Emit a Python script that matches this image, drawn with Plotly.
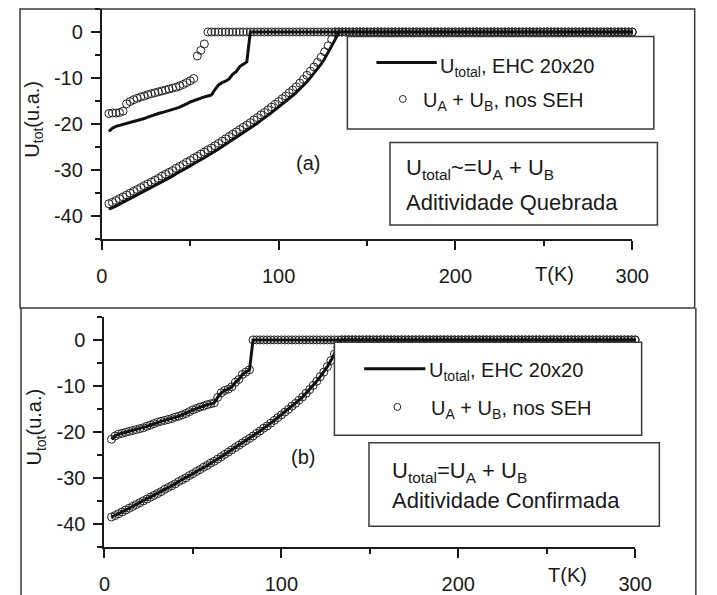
import plotly.graph_objects as go

W, H = 717, 595

# ---------------- data ----------------
T = [4, 6, 8, 10, 12, 14, 16, 18, 20, 22, 24, 26, 28, 30, 32, 34, 36, 38, 40, 42,
     44, 46, 48, 50, 52, 54, 56, 58, 60, 62, 64, 66, 68, 70, 72, 74, 76, 78, 80, 82,
     84, 86, 88, 90, 92, 94, 96, 98, 100, 102, 104, 106, 108, 110, 112, 114, 116, 118, 120, 122,
     124, 126, 128, 130, 132, 134, 136, 138, 140, 142, 144, 146, 148, 150, 152, 154, 156, 158, 160, 162,
     164, 166, 168, 170, 172, 174, 176, 178, 180, 182, 184, 186, 188, 190, 192, 194, 196, 198, 200, 202,
     204, 206, 208, 210, 212, 214, 216, 218, 220, 222, 224, 226, 228, 230, 232, 234, 236, 238, 240, 242,
     244, 246, 248, 250, 252, 254, 256, 258, 260, 262, 264, 266, 268, 270, 272, 274, 276, 278, 280, 282,
     284, 286, 288, 290, 292, 294, 296, 298, 300]

# U_total, EHC 20x20 - upper branch (40 values T=4..82, then 109 zeros T=84..300)
ehc_upper = [-21.6, -20.9, -20.5, -20.3, -20.1, -19.9, -19.7, -19.5, -19.3, -19.1,
             -18.8, -18.5, -18.2, -17.9, -17.7, -17.5, -17.3, -17.1, -16.8, -16.6,
             -16.3, -16.0, -15.6, -15.2, -14.9, -14.6, -14.4, -14.1, -13.9, -13.7,
             -12.5, -11.5, -11.0, -10.7, -10.2, -9.2, -8.6, -7.5, -7.0, -6.5,
             0, 0, 0, 0, 0, 0, 0, 0, 0, 0, 0, 0, 0, 0, 0, 0, 0, 0, 0, 0,
             0, 0, 0, 0, 0, 0, 0, 0, 0, 0, 0, 0, 0, 0, 0, 0, 0, 0, 0, 0,
             0, 0, 0, 0, 0, 0, 0, 0, 0, 0, 0, 0, 0, 0, 0, 0, 0, 0, 0, 0,
             0, 0, 0, 0, 0, 0, 0, 0, 0, 0, 0, 0, 0, 0, 0, 0, 0, 0, 0, 0,
             0, 0, 0, 0, 0, 0, 0, 0, 0, 0, 0, 0, 0, 0, 0, 0, 0, 0, 0, 0,
             0, 0, 0, 0, 0, 0, 0, 0, 0]

# U_total, EHC 20x20 - lower branch (65 values T=4..132, then 84 zeros T=134..300)
ehc_lower = [-38.5, -38.2, -37.8, -37.4, -37.0, -36.6, -36.2, -35.8, -35.4, -35.0,
             -34.6, -34.2, -33.8, -33.4, -33.0, -32.5, -32.1, -31.7, -31.3, -30.8,
             -30.4, -30.0, -29.5, -29.1, -28.6, -28.2, -27.7, -27.3, -26.8, -26.4,
             -25.9, -25.4, -24.9, -24.4, -23.9, -23.4, -22.9, -22.4, -21.9, -21.4,
             -20.9, -20.3, -19.8, -19.2, -18.7, -18.1, -17.5, -16.9, -16.3, -15.7,
             -15.1, -14.4, -13.8, -13.1, -12.4, -11.6, -10.8, -9.9, -9.0, -8.0,
             -7.0, -5.8, -4.5, -3.1, -1.6,
             0, 0, 0, 0, 0, 0, 0, 0, 0, 0, 0, 0, 0, 0, 0, 0, 0, 0, 0, 0,
             0, 0, 0, 0, 0, 0, 0, 0, 0, 0, 0, 0, 0, 0, 0, 0, 0, 0, 0, 0,
             0, 0, 0, 0, 0, 0, 0, 0, 0, 0, 0, 0, 0, 0, 0, 0, 0, 0, 0, 0,
             0, 0, 0, 0, 0, 0, 0, 0, 0, 0, 0, 0, 0, 0, 0, 0, 0, 0, 0, 0,
             0, 0, 0, 0]

# U_A + U_B, nos SEH - panel (a), upper branch (28 values T=4..58, then 121 zeros)
seh_upper_a = [-17.7, -17.6, -17.6, -17.5, -17.2, -15.6, -15.1, -14.7, -14.4, -14.1,
               -13.9, -13.6, -13.4, -13.2, -13.0, -12.8, -12.6, -12.4, -12.2, -12.0,
               -11.7, -11.4, -11.0, -10.6, -10.1, -5.2, -4.0, -2.6,
               0, 0, 0, 0, 0, 0, 0, 0, 0, 0, 0, 0, 0, 0, 0, 0, 0, 0, 0, 0,
               0, 0, 0, 0, 0, 0, 0, 0, 0, 0, 0, 0, 0, 0, 0, 0, 0, 0, 0, 0,
               0, 0, 0, 0, 0, 0, 0, 0, 0, 0, 0, 0, 0, 0, 0, 0, 0, 0, 0, 0,
               0, 0, 0, 0, 0, 0, 0, 0, 0, 0, 0, 0, 0, 0, 0, 0, 0, 0, 0, 0,
               0, 0, 0, 0, 0, 0, 0, 0, 0, 0, 0, 0, 0, 0, 0, 0, 0, 0, 0, 0,
               0, 0, 0, 0, 0, 0, 0, 0, 0, 0, 0, 0, 0, 0, 0, 0, 0, 0, 0, 0,
               0]

# U_A + U_B, nos SEH - panel (a), lower branch (64 values T=4..130, then 85 zeros)
seh_lower_a = [-37.3, -37.0, -36.6, -36.2, -35.8, -35.4, -35.0, -34.6, -34.2, -33.8,
               -33.4, -33.0, -32.6, -32.2, -31.8, -31.3, -30.9, -30.5, -30.1, -29.6,
               -29.2, -28.8, -28.3, -27.9, -27.4, -27.0, -26.5, -26.1, -25.6, -25.2,
               -24.7, -24.2, -23.7, -23.2, -22.7, -22.2, -21.7, -21.2, -20.7, -20.2,
               -19.7, -19.1, -18.6, -18.0, -17.5, -16.9, -16.3, -15.7, -15.1, -14.5,
               -13.9, -13.2, -12.6, -11.9, -11.1, -10.3, -9.4, -8.5, -7.6, -6.6,
               -5.5, -4.3, -3.0, -1.6,
               0, 0, 0, 0, 0, 0, 0, 0, 0, 0, 0, 0, 0, 0, 0, 0, 0, 0, 0, 0,
               0, 0, 0, 0, 0, 0, 0, 0, 0, 0, 0, 0, 0, 0, 0, 0, 0, 0, 0, 0,
               0, 0, 0, 0, 0, 0, 0, 0, 0, 0, 0, 0, 0, 0, 0, 0, 0, 0, 0, 0,
               0, 0, 0, 0, 0, 0, 0, 0, 0, 0, 0, 0, 0, 0, 0, 0, 0, 0, 0, 0,
               0, 0, 0, 0, 0]

# panel (b): U_A + U_B coincides with U_total
seh_upper_b = ehc_upper
seh_lower_b = ehc_lower

x_ticks = [0, 100, 200, 300]
y_ticks = [0, -10, -20, -30, -40]

for arr in (ehc_upper, ehc_lower, seh_upper_a, seh_lower_a):
    assert len(arr) == len(T), len(arr)

# ---------------- helpers (pixel -> paper) ----------------
def X(px):
    return px / W

def Y(py):
    return 1 - py / H

FONT = "Liberation Sans, Arial, sans-serif"
INK = "#1a1a1a"
BOX = "#3a3a3a"

fig = go.Figure()

circle_marker = dict(symbol="circle-open", size=8, color="#222222", line=dict(width=1))
line_style = dict(color="#111111", width=3)

# panel (a)
for arr in (seh_upper_a, seh_lower_a):
    fig.add_trace(go.Scatter(x=T, y=arr, mode="markers", marker=circle_marker,
                             cliponaxis=False, showlegend=False, xaxis="x", yaxis="y"))
for arr in (ehc_upper, ehc_lower):
    fig.add_trace(go.Scatter(x=T, y=arr, mode="lines", line=line_style,
                             showlegend=False, xaxis="x", yaxis="y"))
# panel (b)
for arr in (seh_upper_b, seh_lower_b):
    fig.add_trace(go.Scatter(x=T, y=arr, mode="markers", marker=circle_marker,
                             cliponaxis=False, showlegend=False, xaxis="x2", yaxis="y2"))
for arr in (ehc_upper, ehc_lower):
    fig.add_trace(go.Scatter(x=T, y=arr, mode="lines", line=line_style,
                             showlegend=False, xaxis="x2", yaxis="y2"))

tickfont = dict(family=FONT, size=20, color=INK)

def xaxis_cfg(domain, anchor):
    return dict(domain=domain, anchor=anchor, range=[0, 300], tickmode="array",
                tickvals=x_ticks, ticktext=[str(v) for v in x_ticks],
                ticks="outside", ticklen=9, tickwidth=2, tickcolor=INK,
                minor=dict(dtick=50, tick0=0, ticks="outside", ticklen=5, tickwidth=2, tickcolor=INK),
                showline=True, linewidth=2, linecolor=INK, showgrid=False, zeroline=False,
                tickfont=tickfont, ticklabelstandoff=9)

def yaxis_cfg(domain, anchor):
    return dict(domain=domain, anchor=anchor, range=[-45, 5], tickmode="array",
                tickvals=y_ticks, ticktext=[str(v) for v in y_ticks],
                ticks="outside", ticklen=9, tickwidth=2, tickcolor=INK,
                minor=dict(dtick=5, tick0=0, ticks="outside", ticklen=5, tickwidth=2, tickcolor=INK),
                showline=True, linewidth=2, linecolor=INK, showgrid=False, zeroline=False,
                tickfont=tickfont, ticklabelstandoff=4)

shapes = []
# outer frames
shapes.append(dict(type="rect", xref="paper", yref="paper", x0=X(14.5), x1=X(711.5),
                   y0=Y(309), y1=Y(9), line=dict(color=BOX, width=1.5), layer="below"))
shapes.append(dict(type="line", xref="paper", yref="paper", x0=X(15.5), x1=X(15.5),
                   y0=Y(309), y1=Y(600), line=dict(color=BOX, width=1.5), layer="below"))
shapes.append(dict(type="line", xref="paper", yref="paper", x0=X(712.7), x1=X(712.7),
                   y0=Y(309), y1=Y(600), line=dict(color=BOX, width=1.5), layer="below"))

def box(x0, x1, y0, y1):
    shapes.append(dict(type="rect", xref="paper", yref="paper", x0=X(x0), x1=X(x1),
                       y0=Y(y1), y1=Y(y0), fillcolor="white",
                       line=dict(color=BOX, width=1.5), layer="above"))

# panel (a) boxes
box(352.7, 669.3, 36.5, 129.5)
box(396.7, 673.0, 143.0, 225.7)
# panel (b) boxes
box(339.3, 656.7, 343.5, 436.7)
box(375.0, 675.0, 444.3, 528.0)

# legend samples
def sample_line(x0, x1, y):
    shapes.append(dict(type="line", xref="paper", yref="paper", x0=X(x0), x1=X(x1),
                       y0=Y(y), y1=Y(y), line=dict(color="#111111", width=3), layer="above"))

def sample_circle(cx, cy, r=3.5):
    shapes.append(dict(type="circle", xref="paper", yref="paper", x0=X(cx - r), x1=X(cx + r),
                       y0=Y(cy + r), y1=Y(cy - r), line=dict(color="#222222", width=1), layer="above"))

sample_line(382.7, 445.0, 62.7)
sample_circle(410.0, 99.3)
sample_line(370.0, 433.3, 370.0)
sample_circle(404.3, 408.3)

ann = []
def text(px, py, s, size=20, xanchor="left", angle=0):
    ann.append(dict(x=X(px), y=Y(py), xref="paper", yref="paper", text=s, showarrow=False,
                    xanchor=xanchor, yanchor="middle", textangle=angle,
                    font=dict(family=FONT, size=size, color=INK)))

# y titles
text(28, 120, "U<sub>tot</sub>(u.a.)", xanchor="center", angle=-90)
text(31, 429, "U<sub>tot</sub>(u.a.)", xanchor="center", angle=-90)
# panel labels
text(311.7, 163.3, "(a)", xanchor="center")
text(306.7, 458.3, "(b)", xanchor="center")
# T(K)
text(567, 275, "T(K)", xanchor="center")
text(580, 577, "T(K)", xanchor="center")
# legend texts (a)
text(446.7, 68, "U<sub>total</sub>, EHC 20x20")
text(428.3, 102, "U<sub>A</sub> + U<sub>B</sub>, nos SEH")
text(411.7, 170, "U<sub>total</sub>~=U<sub>A</sub> + U<sub>B</sub>", size=22)
text(411.7, 203, "Aditividade Quebrada", size=22)
# legend texts (b)
text(435.0, 373, "U<sub>total</sub>, EHC 20x20")
text(436.7, 411, "U<sub>A</sub> + U<sub>B</sub>, nos SEH")
text(396.7, 474, "U<sub>total</sub>=U<sub>A</sub> + U<sub>B</sub>", size=22)
text(396.7, 502, "Aditividade Confirmada", size=22)

fig.update_layout(
    width=W, height=H, autosize=False,
    margin=dict(l=0, r=0, t=0, b=0),
    paper_bgcolor="white", plot_bgcolor="white",
    xaxis=xaxis_cfg([X(99), X(647)], "y"),
    yaxis=yaxis_cfg([Y(240), Y(9)], "x"),
    xaxis2=xaxis_cfg([X(101.7), X(650)], "y2"),
    yaxis2=yaxis_cfg([Y(548.7), Y(318)], "x2"),
    shapes=shapes, annotations=ann, showlegend=False,
    font=dict(family=FONT, color=INK),
)

fig.write_html("out.html")
